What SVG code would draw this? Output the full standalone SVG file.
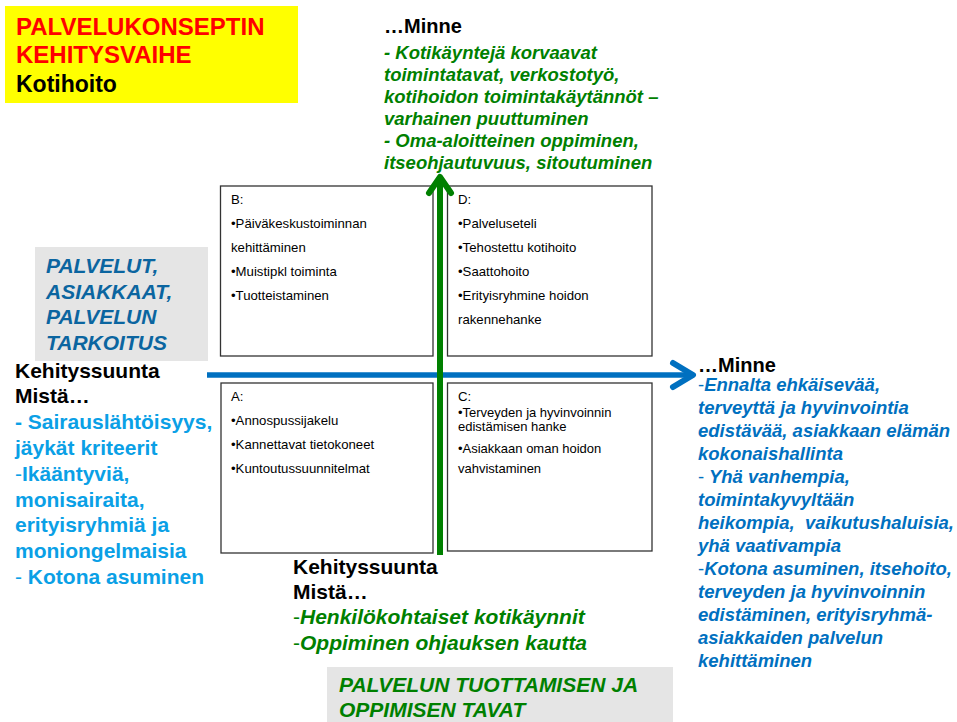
<svg xmlns="http://www.w3.org/2000/svg" width="957" height="722" viewBox="0 0 957 722">
<style>
text{font-family:"Liberation Sans",Arial,sans-serif}
.b{font-weight:bold}
.bi{font-weight:bold;font-style:italic}
.box{fill:#fff;stroke:#333;stroke-width:1.3}
.bt{font-size:13.2px;fill:#000}
.ct{font-size:13px;fill:#000}
.green{fill:#008000}
.lblue{fill:#0aa0e6}
.dblue{fill:#0070c0}
.teal{fill:#0b65a0}
.n{font-weight:normal;font-style:normal}
</style>
<rect width="957" height="722" fill="#fff"/>

<g id="title">
<rect x="5" y="6" width="293" height="97" fill="#ffff00"/>
<text x="16" y="35" class="b" font-size="24" fill="#ff0000">PALVELUKONSEPTIN</text>
<text x="16" y="63" class="b" font-size="24" fill="#ff0000">KEHITYSVAIHE</text>
<text x="16" y="92" class="b" font-size="23" fill="#000">Kotihoito</text>
</g>

<g id="top-minne">
<text x="384" y="33" class="b" font-size="20" fill="#000">…Minne</text>
<text class="bi green" font-size="18.5">
<tspan x="384" y="59">- Kotikäyntejä korvaavat</tspan>
<tspan x="384" y="81">toimintatavat, verkostotyö,</tspan>
<tspan x="384" y="103">kotihoidon toimintakäytännöt –</tspan>
<tspan x="384" y="125">varhainen puuttuminen</tspan>
<tspan x="384" y="147">- Oma-aloitteinen oppiminen,</tspan>
<tspan x="384" y="169">itseohjautuvuus, sitoutuminen</tspan>
</text>
</g>

<g id="left-label">
<rect x="35" y="247" width="173" height="114" fill="#e5e5e5"/>
<text class="bi teal" font-size="21">
<tspan x="46" y="273">PALVELUT,</tspan>
<tspan x="46" y="298.5">ASIAKKAAT,</tspan>
<tspan x="46" y="324">PALVELUN</tspan>
<tspan x="46" y="349.5">TARKOITUS</tspan>
</text>
</g>

<g id="left-from">
<text class="b" font-size="21" fill="#000">
<tspan x="15" y="377.5">Kehityssuunta</tspan>
<tspan x="15" y="403.3">Mistä…</tspan>
</text>
<text class="b lblue" font-size="21">
<tspan x="15" y="429">- Sairauslähtöisyys,</tspan>
<tspan x="15" y="455">jäykät kriteerit</tspan>
<tspan x="15" y="480.7"><tspan font-weight="normal">-</tspan>Ikääntyviä,</tspan>
<tspan x="15" y="506.7">monisairaita,</tspan>
<tspan x="15" y="532.3">erityisryhmiä ja</tspan>
<tspan x="15" y="558.3">moniongelmaisia</tspan>
<tspan x="15" y="583.5"><tspan font-weight="normal">-</tspan> Kotona asuminen</tspan>
</text>
</g>

<g id="box-b">
<rect class="box" x="220.5" y="186" width="212.5" height="170"/>
<text class="bt">
<tspan x="231" y="204">B:</tspan>
<tspan x="231" y="228">•Päiväkeskustoiminnan</tspan>
<tspan x="231" y="252">kehittäminen</tspan>
<tspan x="231" y="276">•Muistipkl toiminta</tspan>
<tspan x="231" y="300">•Tuotteistaminen</tspan>
</text>
</g>

<g id="box-d">
<rect class="box" x="447.5" y="186" width="204.5" height="170"/>
<text class="bt">
<tspan x="458" y="204">D:</tspan>
<tspan x="458" y="228">•Palveluseteli</tspan>
<tspan x="458" y="252">•Tehostettu kotihoito</tspan>
<tspan x="458" y="276">•Saattohoito</tspan>
<tspan x="458" y="300">•Erityisryhmine hoidon</tspan>
<tspan x="458" y="324">rakennehanke</tspan>
</text>
</g>

<g id="box-a">
<rect class="box" x="221" y="383" width="212" height="170"/>
<text class="bt">
<tspan x="231" y="401">A:</tspan>
<tspan x="231" y="425">•Annospussijakelu</tspan>
<tspan x="231" y="449">•Kannettavat tietokoneet</tspan>
<tspan x="231" y="473">•Kuntoutussuunnitelmat</tspan>
</text>
</g>

<g id="box-c">
<rect class="box" x="447.5" y="383" width="204.5" height="168"/>
<text class="bt">
<tspan x="458" y="401">C:</tspan>
</text>
<text class="ct">
<tspan x="458" y="416.5">•Terveyden ja hyvinvoinnin</tspan>
<tspan x="458" y="430.5">edistämisen hanke</tspan>
<tspan x="458" y="452.5">•Asiakkaan oman hoidon</tspan>
<tspan x="458" y="473">vahvistaminen</tspan>
</text>
</g>

<g id="connectors">
<line x1="207" y1="375" x2="692" y2="375" stroke="#0070c0" stroke-width="5.5"/>
<polyline points="673,363 693,375 673,387" fill="none" stroke="#0070c0" stroke-width="6" stroke-linecap="round" stroke-linejoin="round"/>
<line x1="440" y1="555" x2="440" y2="178" stroke="#008000" stroke-width="6"/>
<polyline points="429,193 440,177 451,193" fill="none" stroke="#008000" stroke-width="6" stroke-linecap="round" stroke-linejoin="round"/>
</g>

<g id="right-minne">
<text x="698" y="372" class="b" font-size="20" fill="#000">…Minne</text>
<text class="bi dblue" font-size="18.5">
<tspan x="698" y="391"><tspan class="n">-</tspan>Ennalta ehkäisevää,</tspan>
<tspan x="698" y="414">terveyttä ja hyvinvointia</tspan>
<tspan x="698" y="437">edistävää, asiakkaan elämän</tspan>
<tspan x="698" y="460">kokonaishallinta</tspan>
<tspan x="698" y="483"><tspan class="n">-</tspan> Yhä vanhempia,</tspan>
<tspan x="698" y="506">toimintakyvyltään</tspan>
<tspan x="698" y="529">heikompia,&#160; vaikutushaluisia,</tspan>
<tspan x="698" y="552">yhä vaativampia</tspan>
<tspan x="698" y="575"><tspan class="n">-</tspan>Kotona asuminen, itsehoito,</tspan>
<tspan x="698" y="598">terveyden ja hyvinvoinnin</tspan>
<tspan x="698" y="621">edistäminen, erityisryhmä-</tspan>
<tspan x="698" y="644">asiakkaiden palvelun</tspan>
<tspan x="698" y="667">kehittäminen</tspan>
</text>
</g>

<g id="bottom-from">
<text class="b" font-size="21" fill="#000">
<tspan x="293" y="574">Kehityssuunta</tspan>
<tspan x="293" y="599">Mistä…</tspan>
</text>
<text class="bi green" font-size="21">
<tspan x="293" y="624"><tspan class="n">-</tspan>Henkilökohtaiset kotikäynnit</tspan>
<tspan x="293" y="650"><tspan class="n">-</tspan>Oppiminen ohjauksen kautta</tspan>
</text>
</g>

<g id="bottom-label">
<rect x="327" y="667" width="346" height="60" fill="#e5e5e5"/>
<text class="bi green" font-size="21">
<tspan x="339" y="692">PALVELUN TUOTTAMISEN JA</tspan>
<tspan x="339" y="717">OPPIMISEN TAVAT</tspan>
</text>
</g>
</svg>
